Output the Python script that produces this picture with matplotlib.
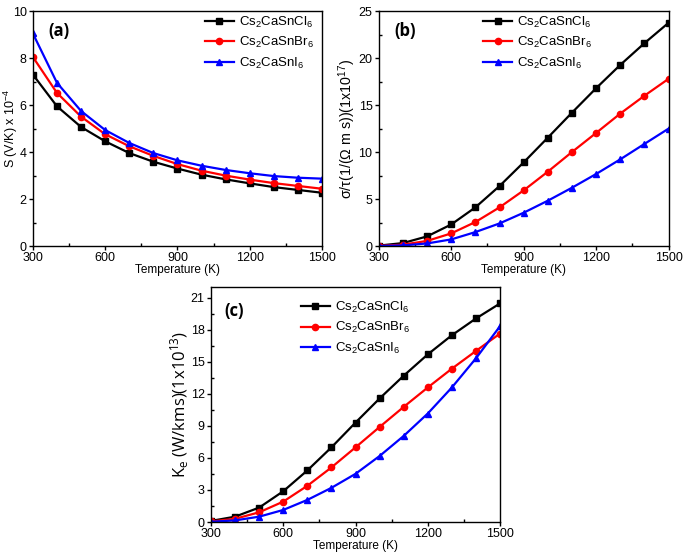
import matplotlib
matplotlib.use("Agg")
import matplotlib.pyplot as plt
from matplotlib.ticker import MultipleLocator, AutoMinorLocator

plt.rcParams["mathtext.default"] = "regular"

T = [300, 400, 500, 600, 700, 800, 900, 1000, 1100, 1200, 1300, 1400, 1500]
names = ["Cs$_2$CaSnCl$_6$", "Cs$_2$CaSnBr$_6$", "Cs$_2$CaSnI$_6$"]
colors = ["black", "red", "blue"]
markers = ["s", "o", "^"]

S_Cl = [7.3, 5.95, 5.07, 4.46, 3.96, 3.59, 3.3, 3.04, 2.84, 2.67, 2.51, 2.39, 2.27]
S_Br = [8.05, 6.52, 5.51, 4.76, 4.25, 3.84, 3.49, 3.21, 3.0, 2.83, 2.68, 2.56, 2.44]
S_I = [9.05, 6.95, 5.75, 4.94, 4.39, 3.96, 3.65, 3.42, 3.24, 3.1, 2.98, 2.91, 2.87]

sig_Cl = [0.05, 0.32, 1.03, 2.3, 4.12, 6.39, 8.91, 11.54, 14.2, 16.8, 19.28, 21.59, 23.76]
sig_Br = [0.02, 0.15, 0.55, 1.35, 2.56, 4.12, 5.93, 7.92, 10.01, 12.04, 14.1, 16.0, 17.8]
sig_I = [0.01, 0.07, 0.28, 0.71, 1.49, 2.41, 3.55, 4.83, 6.21, 7.67, 9.23, 10.87, 12.5]

ke_Cl = [0.1, 0.5, 1.35, 2.88, 4.83, 6.99, 9.31, 11.57, 13.7, 15.7, 17.49, 19.06, 20.47]
ke_Br = [0.05, 0.3, 0.91, 1.91, 3.39, 5.11, 6.99, 8.9, 10.78, 12.6, 14.36, 16.02, 17.65]
ke_I = [0.02, 0.15, 0.5, 1.13, 2.07, 3.2, 4.51, 6.18, 8.06, 10.16, 12.6, 15.33, 18.34]

fig = plt.figure(figsize=(6.85, 5.58), dpi=100)
tickfont = "Liberation Sans"

def setup(ax, series, ylim, ystep, ylabel, label, label_pos, leg_pos, ylabel_x,
          ylabel_family="Liberation Sans", ylabel_size=9.5):
    for vals, c, m, n in zip(series, colors, markers, names):
        ax.plot(T, vals, color=c, marker=m, markersize=4.5, lw=1.6, label=n)
    ax.set_xlim(300, 1500)
    ax.set_ylim(*ylim)
    ax.xaxis.set_major_locator(MultipleLocator(300))
    ax.xaxis.set_minor_locator(MultipleLocator(150))
    ax.yaxis.set_major_locator(MultipleLocator(ystep))
    ax.yaxis.set_minor_locator(AutoMinorLocator(2))
    ax.tick_params(which="major", direction="out", length=3, width=1, labelsize=9, pad=1.5)
    ax.tick_params(which="minor", direction="in", length=2, width=1)
    for t in ax.get_xticklabels() + ax.get_yticklabels():
        t.set_fontfamily(tickfont)
    for s in ax.spines.values():
        s.set_linewidth(1.0)
    ax.set_xlabel("Temperature (K)", fontsize=8.5, family="Liberation Sans", labelpad=0)
    ax.set_ylabel(ylabel, fontsize=ylabel_size, family=ylabel_family)
    ax.yaxis.set_label_coords(ylabel_x, 0.5)
    ax.text(label_pos[0], label_pos[1], label, transform=ax.transAxes, fontsize=12,
            fontweight="bold", family="Open Sans", va="top")
    ax.legend(loc="upper left", bbox_to_anchor=leg_pos, frameon=False, handlelength=2.2,
              borderaxespad=0, borderpad=0, labelspacing=0.4, handletextpad=0.4,
              prop={"family": "Liberation Sans", "size": 9.5})

ax1 = fig.add_axes([0.048, 0.559, 0.422, 0.421])
setup(ax1, [S_Cl, S_Br, S_I], (0, 10), 2, "S (V/K) x 10$^{-4}$", "(a)",
      (0.055, 0.955), (0.595, 0.985), -0.045, ylabel_size=9)

ax2 = fig.add_axes([0.553, 0.559, 0.423, 0.421])
setup(ax2, [sig_Cl, sig_Br, sig_I], (0, 25), 5,
      "σ/τ(1/(Ω m s))(1x10$^{17}$)", "(b)",
      (0.055, 0.955), (0.36, 0.985), -0.072, ylabel_size=10.3)

ax3 = fig.add_axes([0.308, 0.0645, 0.422, 0.421])
setup(ax3, [ke_Cl, ke_Br, ke_I], (0, 22), 3, "K$_e$ (W/kms)(1x10$^{13}$)", "(c)",
      (0.045, 0.935), (0.31, 0.945), -0.07, ylabel_family="Open Sans", ylabel_size=12)

fig.savefig("out.png", dpi=100)
